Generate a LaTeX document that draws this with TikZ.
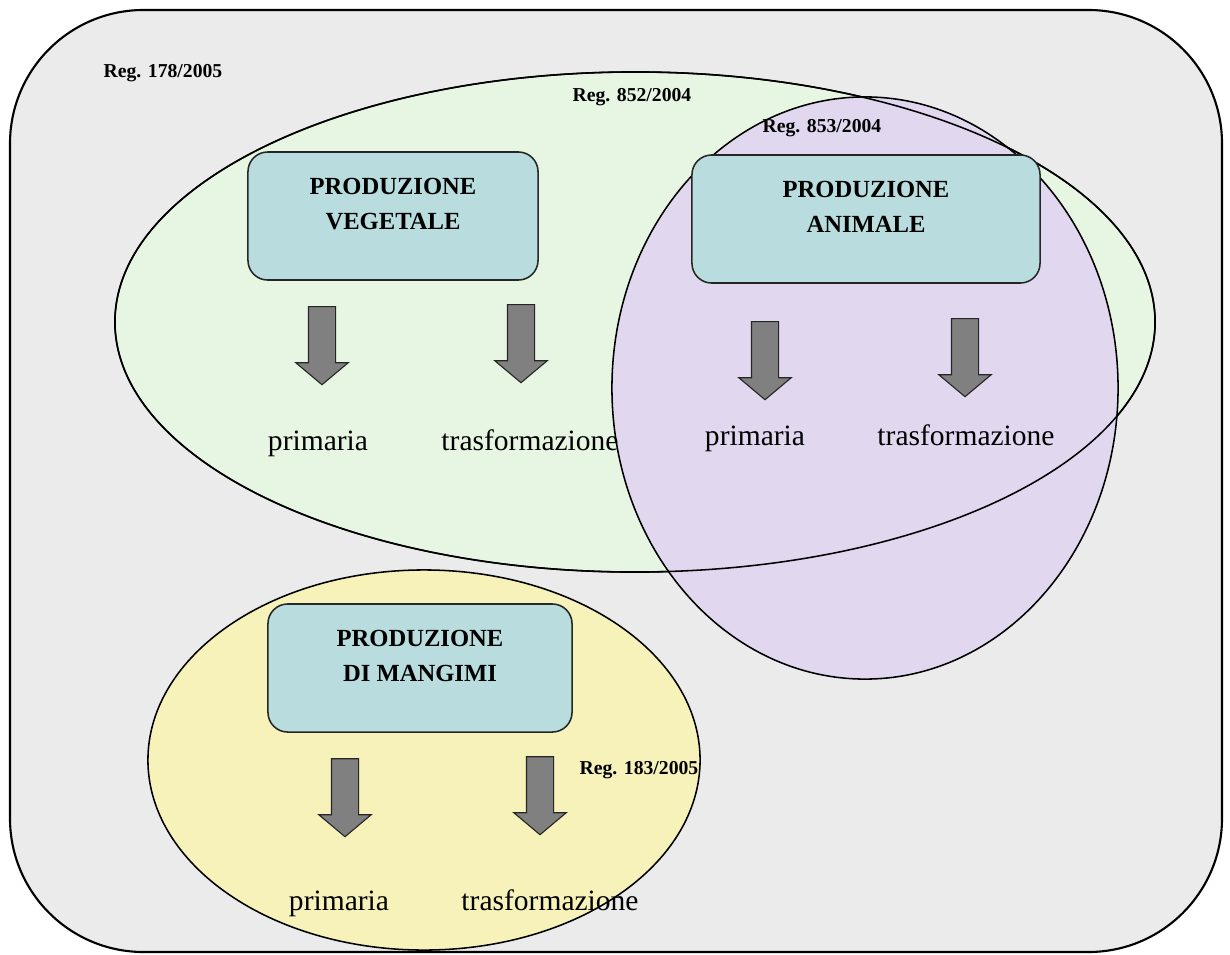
\documentclass[tikz,border=0pt]{standalone}
\usepackage{fontspec}
\setmainfont{Liberation Serif}
\usetikzlibrary{shapes.geometric, shapes.arrows, positioning}
\definecolor{framegray}{RGB}{235, 235, 235}
\definecolor{regreen}{RGB}{231, 245, 227}
\definecolor{relilac}{RGB}{225, 216, 240}
\definecolor{reyellow}{RGB}{246, 242, 186}
\definecolor{boxteal}{RGB}{185, 221, 222}
\definecolor{arrowgray}{RGB}{128, 128, 128}

\begin{document}
\begin{tikzpicture}[
  x=0.025cm, y=-0.025cm,
  area/.style={draw=black, line width=1.1pt},
  prodbox/.style={draw=black!85, line width=1.1pt, fill=boxteal, rounded corners=14pt,
    minimum width=7.25cm, minimum height=3.2cm, align=center, text depth=0.6cm,
    font=\fontsize{17.5}{25}\selectfont\bfseries},
  downarrow/.style={single arrow, draw=black!85, fill=arrowgray, line width=0.8pt,
    rotate=-90, single arrow head extend=0.315cm, single arrow tip angle=100,
    minimum height=1.95cm, inner xsep=0pt, inner ysep=0.325cm},
  reglabel/.style={font=\fontsize{14}{16}\selectfont\bfseries},
  outtext/.style={anchor=base, font=\fontsize{21}{24}\selectfont}
]
  \useasboundingbox (0,0) rectangle (1230,954);
  % contenitore generale
  \draw[draw=black, line width=1.5pt, fill=framegray, rounded corners=95pt] (10,10) rectangle (1222,952);
  % aree dei regolamenti
  \node[area, ellipse, fill=regreen, minimum width=26cm, minimum height=12.5cm] (veg) at (635,322) {};
  \node[area, ellipse, fill=relilac, minimum width=12.65cm, minimum height=14.55cm] (ani) at (865,388) {};
  \draw[line width=1.1pt] (veg.center) ellipse [x radius=520, y radius=250];
  \node[area, ellipse, fill=reyellow, minimum width=13.8cm, minimum height=9.5cm] (mang) at (424,760) {};

  \node[reglabel] (r178) at (163,73) {Reg. 178/2005};
  \node[reglabel] (r852) at (632,97) {Reg. 852/2004};
  \node[reglabel] (r853) at (822,128) {Reg. 853/2004};
  \node[reglabel] (r183) at (639,770) {Reg. 183/2005};

  % produzione vegetale
  \node[prodbox] (pveg) at (393,216) {PRODUZIONE\\VEGETALE};
  \node[downarrow] (av1) at (322,340) {};
  \node[downarrow] (av2) at (521,338) {};
  \node[outtext] (tv1) at (318,450) {primaria};
  \node[outtext] (tv2) at (530,450) {trasformazione};

  % produzione animale
  \node[prodbox, minimum width=8.7cm] (pani) at (866,219) {PRODUZIONE\\ANIMALE};
  \node[downarrow] (aa1) at (765,355) {};
  \node[downarrow] (aa2) at (965,352) {};
  \node[outtext] (ta1) at (755,445) {primaria};
  \node[outtext] (ta2) at (966,445) {trasformazione};

  % produzione di mangimi
  \node[prodbox, minimum width=7.6cm] (pmang) at (420,668) {PRODUZIONE\\DI MANGIMI};
  \node[downarrow] (am1) at (345,792) {};
  \node[downarrow] (am2) at (540,790) {};
  \node[outtext] (tm1) at (339,910) {primaria};
  \node[outtext] (tm2) at (550,910) {trasformazione};
\end{tikzpicture}
\end{document}
